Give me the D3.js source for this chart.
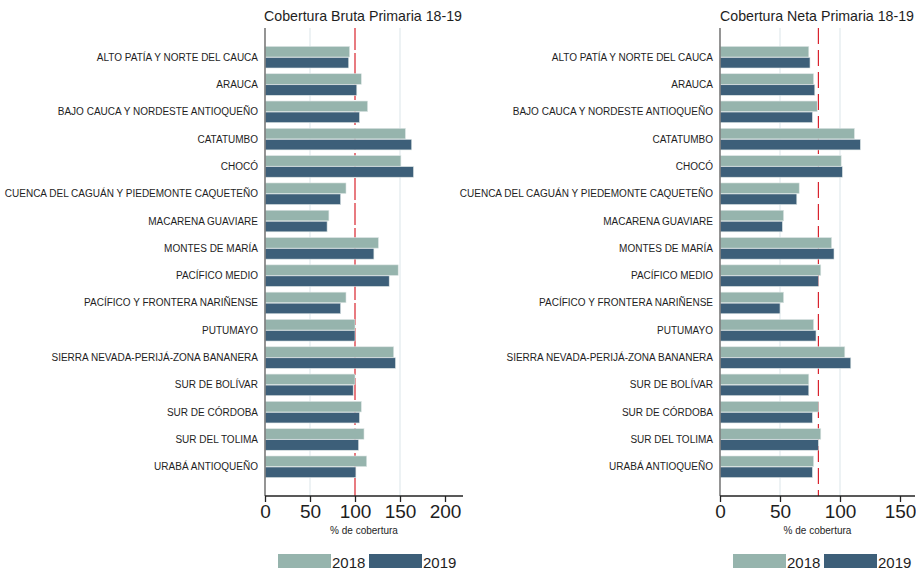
<!DOCTYPE html>
<html>
<head>
<meta charset="utf-8">
<script src="https://cdn.jsdelivr.net/npm/d3@7"></script>
<style>
body { margin: 0; background: #fff; }
svg { font-family: "Liberation Sans", Arial, sans-serif; }
</style>
</head>
<body>
<svg id="chart" width="916" height="571"></svg>
<script>
// data
var categories = ["ALTO PATÍA Y NORTE DEL CAUCA", "ARAUCA", "BAJO CAUCA Y NORDESTE ANTIOQUEÑO",
  "CATATUMBO", "CHOCÓ", "CUENCA DEL CAGUÁN Y PIEDEMONTE CAQUETEÑO", "MACARENA GUAVIARE",
  "MONTES DE MARÍA", "PACÍFICO MEDIO", "PACÍFICO Y FRONTERA NARIÑENSE", "PUTUMAYO",
  "SIERRA NEVADA-PERIJÁ-ZONA BANANERA", "SUR DE BOLÍVAR", "SUR DE CÓRDOBA",
  "SUR DEL TOLIMA", "URABÁ ANTIOQUEÑO"];
var years = ["2018", "2019"];

var bruta2018 = [94, 107, 114, 156, 151, 90, 71, 126, 148, 90, 100, 143, 100, 107, 110, 113];
var bruta2019 = [93, 102, 105, 163, 165, 84, 69, 121, 138, 84, 100, 145, 98, 105, 104, 101];
var neta2018 = [74, 78, 81, 112, 101, 66, 53, 93, 84, 53, 78, 104, 74, 82, 84, 78];
var neta2019 = [75, 79, 77, 117, 102, 64, 52, 95, 82, 50, 80, 109, 74, 77, 82, 77];

var brutaTicks = [0, 50, 100, 150, 200];
var netaTicks = [0, 50, 100, 150];
var brutaGrid = [50, 150];
var netaGrid = [50, 100];
var brutaRef = 100;
var netaRef = 82;

var colors = { "2018": "#96b4ad", "2019": "#3d5f79" };

var svg = d3.select("#chart");

function panel(opt) {
  var g = svg.append("g");
  var x = d3.scaleLinear().domain([0, opt.max]).range([opt.x0, opt.x1]);
  var y = d3.scaleBand().domain(categories).range([28, 496]).paddingInner(0.21).paddingOuter(0.675);
  var yy = d3.scaleBand().domain(years).range([0, y.bandwidth()]).paddingInner(0.04);

  // grid
  g.selectAll(".grid").data(opt.grid).enter().append("line")
    .attr("x1", d => x(d)).attr("x2", d => x(d))
    .attr("y1", 28).attr("y2", 496)
    .attr("stroke", "#e7eef0").attr("stroke-width", 1.5);

  // reference line (behind bars)
  g.append("line")
    .attr("x1", x(opt.ref)).attr("x2", x(opt.ref))
    .attr("y1", 28).attr("y2", 496)
    .attr("stroke", "#d9232e").attr("stroke-width", 1.2)
    .attr("stroke-dasharray", opt.dash);

  var rows = categories.map(function(c, i) {
    return { cat: c, v: { "2018": opt.d18[i], "2019": opt.d19[i] } };
  });

  var grp = g.selectAll(".row").data(rows).enter().append("g")
    .attr("transform", d => "translate(0," + y(d.cat) + ")");

  grp.selectAll("rect").data(d => years.map(k => ({ k: k, v: d.v[k] }))).enter().append("rect")
    .attr("x", x(0))
    .attr("y", d => yy(d.k))
    .attr("width", d => x(d.v) - x(0))
    .attr("height", yy.bandwidth())
    .attr("fill", d => colors[d.k])
    .attr("stroke", "#dde5e4").attr("stroke-width", 0.6);

  grp.append("text")
    .attr("x", opt.x0 - 7)
    .attr("y", y.bandwidth() / 2 + 3.5)
    .attr("text-anchor", "end")
    .attr("font-size", 10)
    .attr("fill", "#1e1e1e")
    .text(d => d.cat);

  // y axis line
  g.append("line")
    .attr("x1", opt.x0).attr("x2", opt.x0).attr("y1", 28).attr("y2", 496)
    .attr("stroke", "#7a7a7a").attr("stroke-width", 1.6);

  // x axis
  var ax = g.append("g").attr("transform", "translate(0,496)")
    .call(d3.axisBottom(x).tickValues(opt.ticks).tickSize(6).tickPadding(3));
  ax.select(".domain").attr("stroke", "#222").attr("stroke-width", 1.3)
    .attr("d", "M" + opt.x0 + ",0H" + opt.x1);
  ax.selectAll(".tick line").attr("stroke", "#222").attr("stroke-width", 1.3);
  ax.selectAll(".tick text").attr("font-size", 19).attr("fill", "#1e1e1e")
    .attr("font-family", "Liberation Sans, Arial, sans-serif");

  g.append("text")
    .attr("x", (opt.x0 + opt.x1) / 2).attr("y", 534)
    .attr("text-anchor", "middle").attr("font-size", 10).attr("fill", "#1e1e1e")
    .text("% de cobertura");

  g.append("text")
    .attr("x", opt.titleX).attr("y", 21)
    .attr("text-anchor", "middle").attr("font-size", 14.2).attr("fill", "#1e1e1e")
    .text(opt.title);

  // legend
  var lg = g.append("g").attr("transform", "translate(" + opt.legX + ",554)");
  years.forEach(function(k, i) {
    lg.append("rect").attr("x", i * 91).attr("y", 0).attr("width", 53).attr("height", 14)
      .attr("fill", colors[k]);
    lg.append("text").attr("x", i * 91 + 54).attr("y", 13.5)
      .attr("font-size", 15).attr("fill", "#1e1e1e").text(k);
  });
}

panel({ title: "Cobertura Bruta Primaria 18-19", d18: bruta2018, d19: bruta2019,
  x0: 265, x1: 463, max: 220, ticks: brutaTicks, grid: brutaGrid, ref: brutaRef,
  dash: "22,3", legX: 278, titleX: 363 });
panel({ title: "Cobertura Neta Primaria 18-19", d18: neta2018, d19: neta2019,
  x0: 720, x1: 915, max: 162.5, ticks: netaTicks, grid: netaGrid, ref: netaRef,
  dash: "16,6", legX: 733, titleX: 817 });
</script>
</body>
</html>
